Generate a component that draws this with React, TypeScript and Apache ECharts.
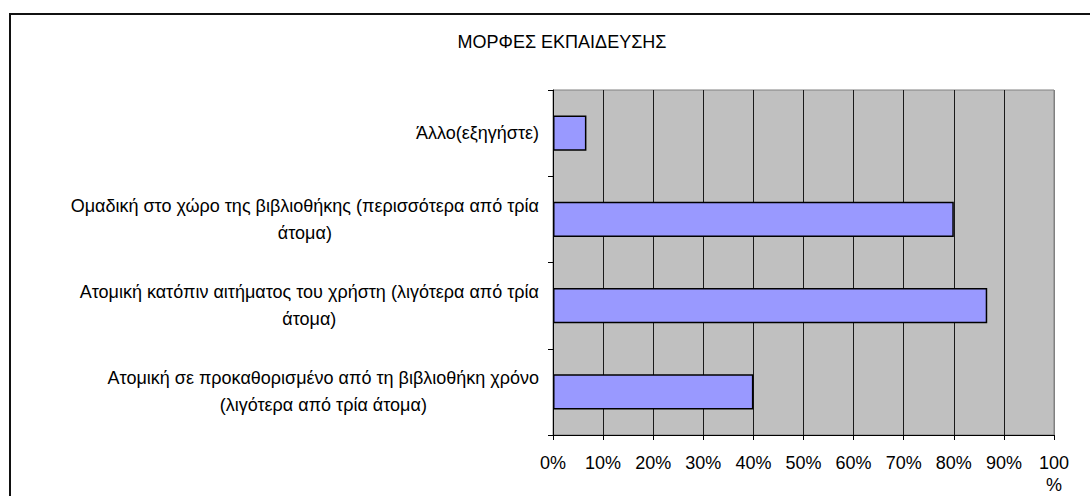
import React, { useEffect, useRef } from "react";
import * as echarts from "echarts";

const titleText = "ΜΟΡΦΕΣ ΕΚΠΑΙΔΕΥΣΗΣ";
const categories: string[][] = [
  ["Άλλο(εξηγήστε)"],
  ["Ομαδική στο χώρο της βιβλιοθήκης (περισσότερα από τρία", "άτομα)"],
  ["Ατομική κατόπιν αιτήματος του χρήστη (λιγότερα από τρία", "άτομα)"],
  ["Ατομική σε προκαθορισμένο από τη βιβλιοθήκη χρόνο", "(λιγότερα από τρία άτομα)"],
];
const values = [6.67, 80, 86.67, 40];
const xTicks = [0, 10, 20, 30, 40, 50, 60, 70, 80, 90, 100];

export default function App() {
  const ref = useRef<HTMLDivElement>(null);
  useEffect(() => {
    if (!ref.current) return;
    const chart = echarts.init(ref.current, null, { renderer: "svg" });
    const font = "'Liberation Sans', Arial, sans-serif";
    const catKeys = categories.map((c) => c.join("\n"));
    chart.setOption({
      animation: false,
      backgroundColor: "#ffffff",
      title: {
        text: titleText,
        left: 557,
        top: 28,
        textAlign: "center",
        textStyle: { fontFamily: font, fontSize: 18, fontWeight: "normal", color: "#000" },
      },
      graphic: [
        {
          type: "rect",
          shape: { x: 10, y: 14, width: 1200, height: 600 },
          style: { fill: "none", stroke: "#111", lineWidth: 2 },
          silent: true,
          z: 100,
        },
      ],
      grid: {
        left: 553,
        right: 36,
        top: 90,
        bottom: 61,
        containLabel: false,
        outerBoundsMode: "none",
        show: true,
        backgroundColor: "#c0c0c0",
        borderColor: "#808080",
        borderWidth: 1,
      },
      xAxis: {
        type: "value",
        min: 0,
        max: 100,
        interval: 10,
        axisLine: { show: true, lineStyle: { color: "#000", width: 1 } },
        axisTick: { show: true, length: 5, lineStyle: { color: "#000" } },
        splitLine: {
          show: true,
          lineStyle: {
            color: xTicks.map((t) => (t === 100 ? "#808080" : "#1a1a1a")),
            width: 1,
          },
        },
        axisLabel: {
          margin: 17,
          fontFamily: font,
          fontSize: 18,
          color: "#000",
          lineHeight: 22,
          formatter: (v: number) => (v === 100 ? "100\n%" : v + "%"),
          verticalAlign: "top",
        },
      },
      yAxis: {
        type: "category",
        inverse: true,
        data: catKeys,
        axisLine: { show: true, lineStyle: { color: "#000", width: 1 } },
        axisTick: { show: true, length: 5, lineStyle: { color: "#000" } },
        splitLine: { show: false },
        axisLabel: {
          margin: 14,
          fontFamily: font,
          fontSize: 18,
          color: "#000",
          formatter: (v: string) =>
            v
              .split("\n")
              .map((l) => "{c|" + l + "}")
              .join("\n"),
          rich: {
            c: { align: "center", fontFamily: font, fontSize: 18, color: "#000", lineHeight: 27 },
          },
        },
      },
      series: [
        {
          type: "bar",
          data: values,
          barWidth: "41%",
          itemStyle: { color: "#9999ff", borderColor: "#000", borderWidth: 1.5 },
        },
      ],
    });
    return () => chart.dispose();
  }, []);
  return (
    <div
      ref={ref}
      style={{ position: "fixed", left: 0, top: 0, width: 1090, height: 496, background: "#fff" }}
    />
  );
}
